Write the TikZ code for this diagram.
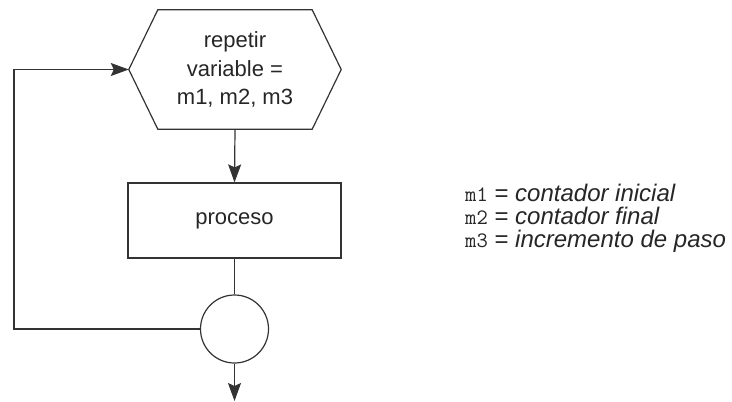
\documentclass[tikz,border=0pt]{standalone}
\usepackage{fontspec}
\setmainfont{Liberation Sans}
\usetikzlibrary{arrows.meta}
\begin{document}
\begin{tikzpicture}[x=1pt,y=-1pt,
  line/.style={draw=black!80, line width=1.2pt},
  arr/.style={line, -{Stealth[length=18pt,width=13pt,inset=3pt]}},
  boxtext/.style={font=\fontsize{22}{28.5}\selectfont, text=black!85, align=center},
  legtext/.style={font=\fontsize{24}{23}\selectfont, text=black!85, anchor=base west, inner sep=0pt},
  code/.style={font=\fontsize{22}{22}\selectfont\ttfamily}]
  \useasboundingbox (0,0) rectangle (732,402);

  % loop header (hexagon)
  \node[boxtext, minimum width=212pt, minimum height=119pt, inner sep=0pt] (hex) at (235,69.5)
    {repetir\\variable =\\m1, m2, m3};
  \draw[line] ([xshift=29pt]hex.north west) -- ([xshift=-29pt]hex.north east)
    -- (hex.east) -- ([xshift=-29pt]hex.south east) -- ([xshift=29pt]hex.south west)
    -- (hex.west) -- cycle;

  % loop body
  \node[line, boxtext, minimum width=213pt, minimum height=75pt, inner sep=0pt] (proc) at (234.5,220.5) {proceso};

  % loop end connector
  \node[line, circle, minimum size=68pt, inner sep=0pt] (end) at (234.5,329) {};
  \coordinate (exit) at (234.5,401);
  \coordinate (lb) at (14,329);
  \coordinate (lt) at (14,69.5);

  \draw[arr] (hex.south) -- (proc.north);
  \draw[line] (proc.south) -- (end.north);
  \draw[arr] (end.south) -- (exit);
  \draw[arr] (end.west) -- (lb) -- (lt) -- (hex.west);

  % legend
  \newcommand\codevar[1]{{\fontsize{22}{22}\selectfont\ttfamily #1}}
  \node[legtext] (l1) at (465,201) {\codevar{m1} = \textit{contador inicial}};
  \node[legtext] (l2) at (465,224) {\codevar{m2} = \textit{contador final}};
  \node[legtext] (l3) at (465,247) {\codevar{m3} = \textit{incremento de paso}};
\end{tikzpicture}
\end{document}
